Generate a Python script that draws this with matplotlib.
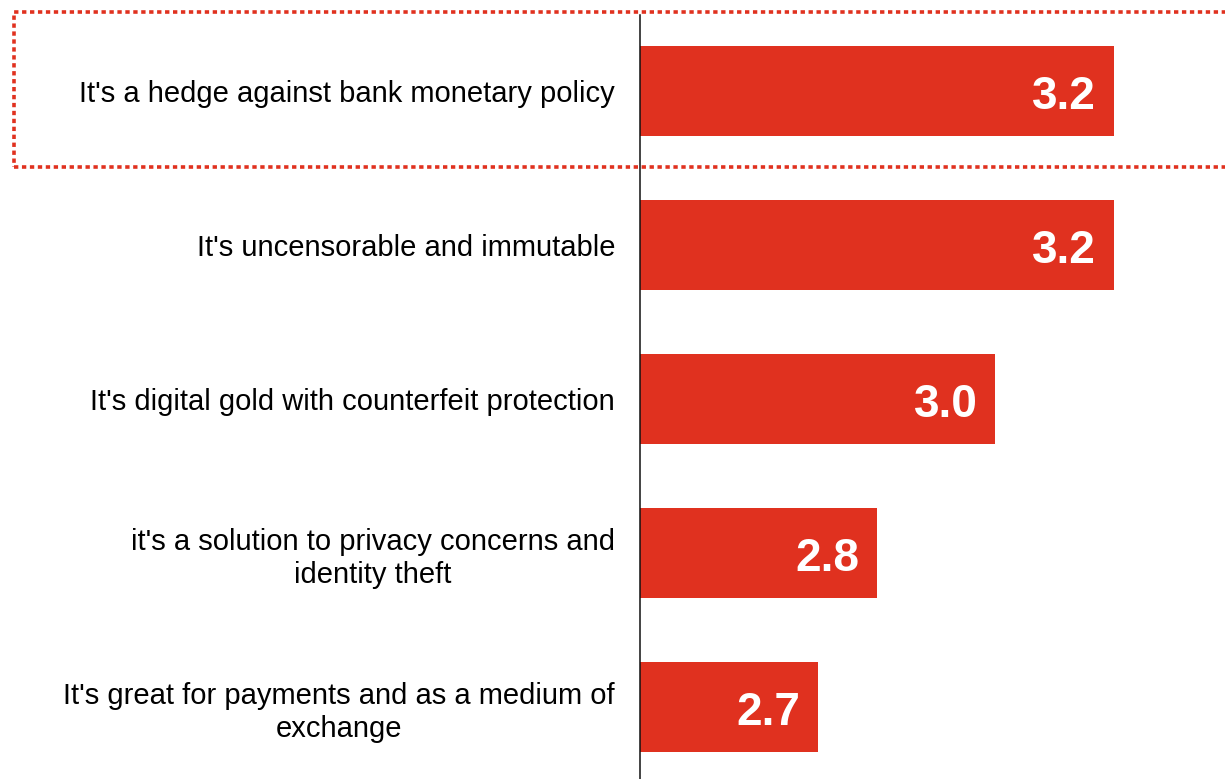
import numpy as np
import matplotlib
matplotlib.use("Agg")
import matplotlib.pyplot as plt
from matplotlib.patches import Rectangle

plt.rcParams["font.family"] = ["Liberation Sans", "DejaVu Sans"]

# survey reasons and their average scores
reasons = [
    "It's a hedge against bank monetary policy",
    "It's uncensorable and immutable",
    "It's digital gold with counterfeit protection",
    "it's a solution to privacy concerns and\nidentity theft",
    "It's great for payments and as a medium of\nexchange",
]
scores = [3.2, 3.2, 3.0, 2.8, 2.7]

bar_color = "#E0311F"

W, H = 1225, 779
fig = plt.figure(figsize=(W / 100, H / 100), dpi=100)

# axes placed in pixel terms: left spine at x=640, top at y=15
ax = fig.add_axes([640 / W, 0, 1 - 640 / W, (H - 15) / H])

y = np.arange(len(reasons))
ax.barh(y, scores, height=0.584, color=bar_color, left=0)

ax.set_xlim(2.4, 2.4 + (W - 640) / 592)
ax.set_ylim((779 - 91) / 154, (15 - 91) / 154)

# value labels inside bar ends
for yi, s in zip(y, scores):
    ax.annotate(f"{s:.1f}", xy=(s, yi), xytext=(-12.5, -13.3),
                textcoords="offset points", ha="right", va="baseline",
                color="white", fontsize=33, fontweight="bold")

ax.set_yticks(y)
ax.set_yticklabels(reasons, fontsize=21)
for lbl in ax.get_yticklabels():
    lbl.set_multialignment("center")
    lbl.set_linespacing(1.22)
ax.tick_params(axis="y", length=0, pad=18)
ax.set_xticks([])

for side in ["top", "right", "bottom"]:
    ax.spines[side].set_visible(False)
ax.spines["left"].set_linewidth(1.1)
ax.spines["left"].set_color("#111111")

# dotted highlight around the top row
box = Rectangle((14 / W, (H - 167) / H), (W + 20) / W, 155 / H,
                transform=fig.transFigure, fill=False, edgecolor=bar_color,
                linewidth=2.6, linestyle=(0, (1.2, 1.0)), clip_on=False)
fig.patches.append(box)

fig.savefig("out.png", dpi=100)
